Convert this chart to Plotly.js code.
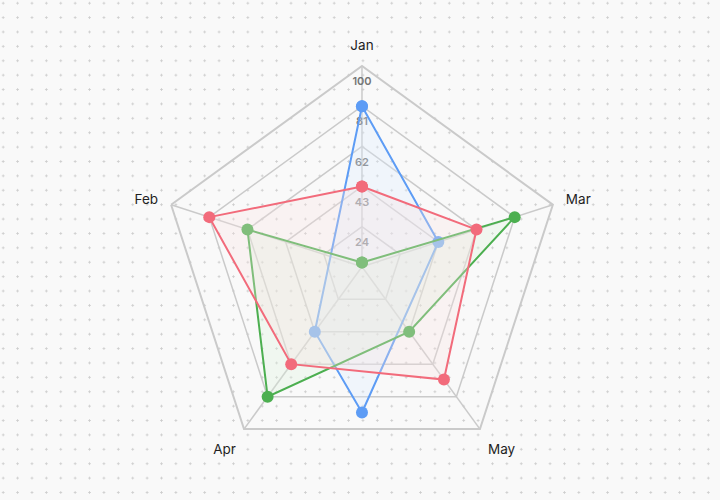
<!DOCTYPE html>
<html>
<head>
<meta charset="utf-8">
<script src="https://cdn.plot.ly/plotly-3.0.1.min.js"></script>
<style>
  html, body { margin: 0; padding: 0; }
  body {
    width: 720px; height: 500px;
    background-color: #f9f9f9;
    background-image: radial-gradient(circle, #cdcdcd 0.9px, transparent 1.3px);
    background-size: 14.4px 14.4px;
    background-position: -4px -4px;
  }
  #chart { width: 720px; height: 500px; }
</style>
</head>
<body>
<div id="chart"></div>
<script>
// ======================= DATA =======================
// months in the order they sit round the ring, clockwise from the top
const months = ['Jan', 'Mar', 'May', 'Apr', 'Feb'];
const rMin = 5;
const ringTicks = [24, 43, 62, 81, 100];

// blue has no Feb point, and its third point falls between May and Apr
const blueSlots = [0, 1, 2.5, 3];
const blueVals = [81, 43, 74, 43];
const greenSlots = [0, 1, 2, 3, 4];
const greenVals = [7, 81, 43, 81, 62];
const redSlots = [0, 1, 2, 3, 4];
const redVals = [43, 62, 71, 62, 81];

// ======================= TRACES =======================
function series(slots, vals, color, fill) {
  const step = 360 / months.length;
  const theta = slots.map(s => s * step);
  return {
    type: 'scatterpolar', subplot: 'polar2',
    theta: theta.concat(theta[0]), r: vals.concat(vals[0]),
    mode: 'lines+markers', fill: 'toself', fillcolor: fill,
    line: {color: color, width: 2},
    marker: {color: color, size: 12},
    hoverinfo: 'skip', showlegend: false
  };
}

// ring values, printed just under each ring on the Jan spoke
const ringLabels = {
  type: 'scatterpolar', subplot: 'polar',
  theta: ringTicks.map(() => months[0]), r: ringTicks,
  mode: 'markers+text', text: ringTicks.map(String), textposition: 'bottom center',
  marker: {size: 16, color: 'rgba(0,0,0,0)'},
  textfont: {family: 'Inter', size: 11, color: '#747474', weight: 600},
  cliponaxis: false, hoverinfo: 'skip', showlegend: false
};

const traces = [
  ringLabels,
  series(blueSlots, blueVals, '#5d9cf5', 'rgba(218,234,255,0.3)'),
  series(greenSlots, greenVals, '#4caf50', 'rgba(218,242,218,0.3)'),
  series(redSlots, redVals, '#f26b7b', 'rgba(248,224,224,0.3)')
];

// ======================= LAYOUT =======================
const dom = {x: [0.224, 0.7815], y: [0.065, 0.868]};
const gridGray = '#cacaca';

const layout = {
  width: 720, height: 500,
  margin: {l: 0, r: 0, t: 0, b: 0},
  paper_bgcolor: 'rgba(0,0,0,0)',
  showlegend: false,
  font: {family: 'Inter, "Noto Sans", sans-serif'},
  polar: {
    domain: dom, bgcolor: 'rgba(0,0,0,0)', gridshape: 'linear',
    angularaxis: {
      type: 'category', categoryorder: 'array', categoryarray: months,
      rotation: 90, direction: 'clockwise',
      showline: true, linecolor: gridGray, linewidth: 2,
      showgrid: true, gridcolor: gridGray, gridwidth: 1.5,
      ticks: 'outside', ticklen: 10, tickcolor: 'rgba(0,0,0,0)',
      tickfont: {size: 13.5, color: '#1f1f1f'}
    },
    radialaxis: {
      range: [rMin, 100], tickvals: ringTicks,
      showticklabels: false, ticks: '', showline: false,
      gridcolor: gridGray, gridwidth: 1.5
    }
  },
  polar2: {
    domain: dom, bgcolor: 'rgba(0,0,0,0)',
    angularaxis: {
      type: 'linear', rotation: 90, direction: 'clockwise',
      visible: false, showgrid: false, showline: false, showticklabels: false
    },
    radialaxis: {
      range: [rMin, 100], visible: false,
      showgrid: false, showline: false, showticklabels: false
    }
  }
};

Plotly.newPlot('chart', traces, layout, {staticPlot: true});
</script>
</body>
</html>
